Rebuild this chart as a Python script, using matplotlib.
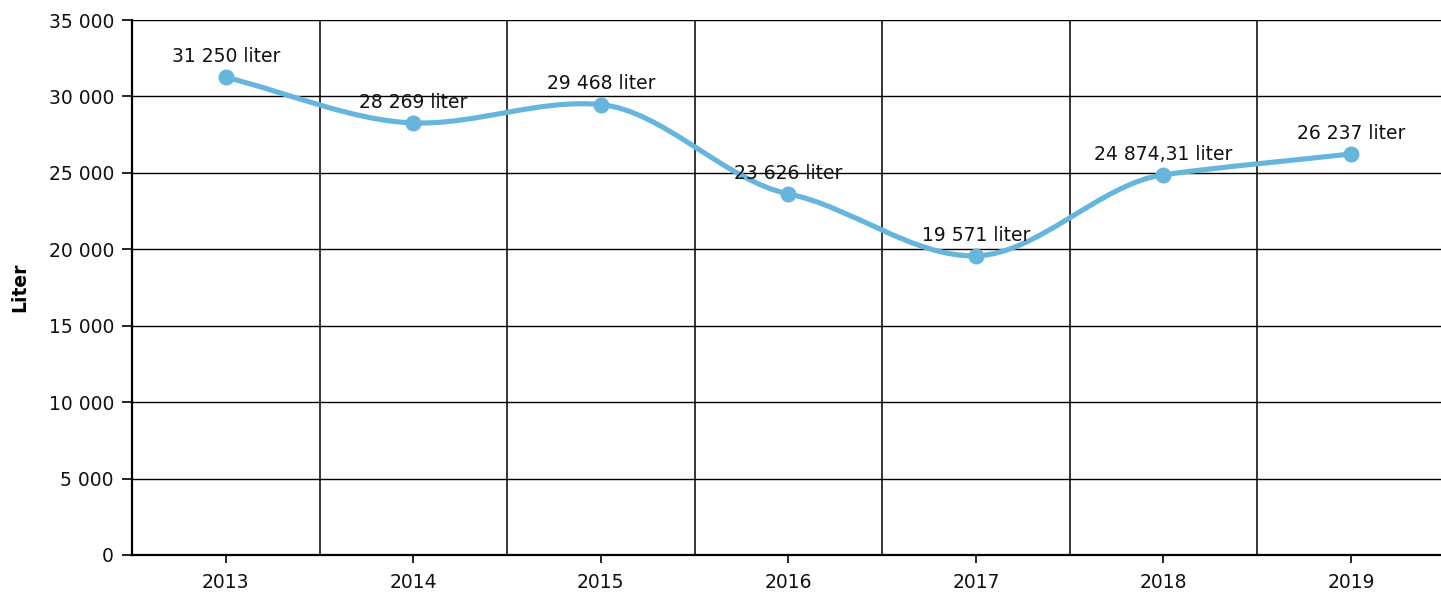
import matplotlib
matplotlib.use("Agg")
import matplotlib.pyplot as plt
import numpy as np
from matplotlib.path import Path
from matplotlib.patches import PathPatch

years = ["2013", "2014", "2015", "2016", "2017", "2018", "2019"]
liters = [31250, 28269, 29468, 23626, 19571, 24874.31, 26237]
labels = ["31 250 liter", "28 269 liter", "29 468 liter", "23 626 liter",
          "19 571 liter", "24 874,31 liter", "26 237 liter"]
y_ticks = [0, 5000, 10000, 15000, 20000, 25000, 30000, 35000]

LINE_COLOR = "#66b5dd"
plt.rcParams["font.family"] = ["DejaVu Sans"]


def smooth_path(xs, ys, tension=0.5):
    """Cubic Bezier through the points, cardinal-style tangents."""
    xs = np.asarray(xs, dtype=float)
    ys = np.asarray(ys, dtype=float)
    n = len(xs)
    slopes = np.zeros(n)
    for i in range(n):
        if i == 0:
            slopes[i] = (ys[1] - ys[0]) / (xs[1] - xs[0])
        elif i == n - 1:
            slopes[i] = (ys[-1] - ys[-2]) / (xs[-1] - xs[-2])
        else:
            slopes[i] = tension * (ys[i + 1] - ys[i - 1]) / (xs[i + 1] - xs[i - 1])
    verts = [(xs[0], ys[0])]
    codes = [Path.MOVETO]
    for i in range(n - 1):
        h = (xs[i + 1] - xs[i]) / 3
        verts += [(xs[i] + h, ys[i] + slopes[i] * h),
                  (xs[i + 1] - h, ys[i + 1] - slopes[i + 1] * h),
                  (xs[i + 1], ys[i + 1])]
        codes += [Path.CURVE4] * 3
    return Path(verts, codes)


fig = plt.figure(figsize=(14.41, 5.94), dpi=100)
ax = fig.add_axes([132 / 1441, 39 / 594, 1309 / 1441, 535 / 594])

x = np.arange(len(years))
ax.add_patch(PathPatch(smooth_path(x, liters), facecolor="none",
                       edgecolor=LINE_COLOR, linewidth=3.7, zorder=3,
                       capstyle="round", joinstyle="round"))
ax.plot(x, liters, linestyle="none", marker="o", markersize=10.5,
        color=LINE_COLOR, zorder=4)

for xi, yi, lab in zip(x, liters, labels):
    ax.annotate(lab, (xi, yi), xytext=(0, 8), textcoords="offset points",
                ha="center", va="bottom", fontsize=13.5, color="#111111",
                zorder=5)

ax.set_xlim(-0.5, 6.48)
ax.set_ylim(0, 35000)
ax.set_xticks(x)
ax.set_xticklabels(years)
ax.set_yticks(y_ticks)
ax.set_yticklabels([f"{v:,}".replace(",", " ") for v in y_ticks])
ax.tick_params(axis="both", labelsize=13.5, colors="#111111")
ax.tick_params(axis="y", length=7, width=1.2, color="black", pad=6)
ax.tick_params(axis="x", length=6, width=1.2, color="black", pad=7)

# horizontal grid on value ticks, vertical grid on category boundaries
for v in y_ticks[1:]:
    ax.axhline(v, color="black", linewidth=1.0, zorder=1)
for b in np.arange(0.5, len(years) - 1, 1.0):
    ax.axvline(b, color="black", linewidth=1.1, zorder=1)

for side in ["top", "right"]:
    ax.spines[side].set_visible(False)
ax.spines["left"].set_linewidth(1.6)
ax.spines["bottom"].set_linewidth(1.6)

ax.set_ylabel("Liter", fontsize=13.5, fontweight="bold", labelpad=14)

fig.savefig("out.png", dpi=100)
